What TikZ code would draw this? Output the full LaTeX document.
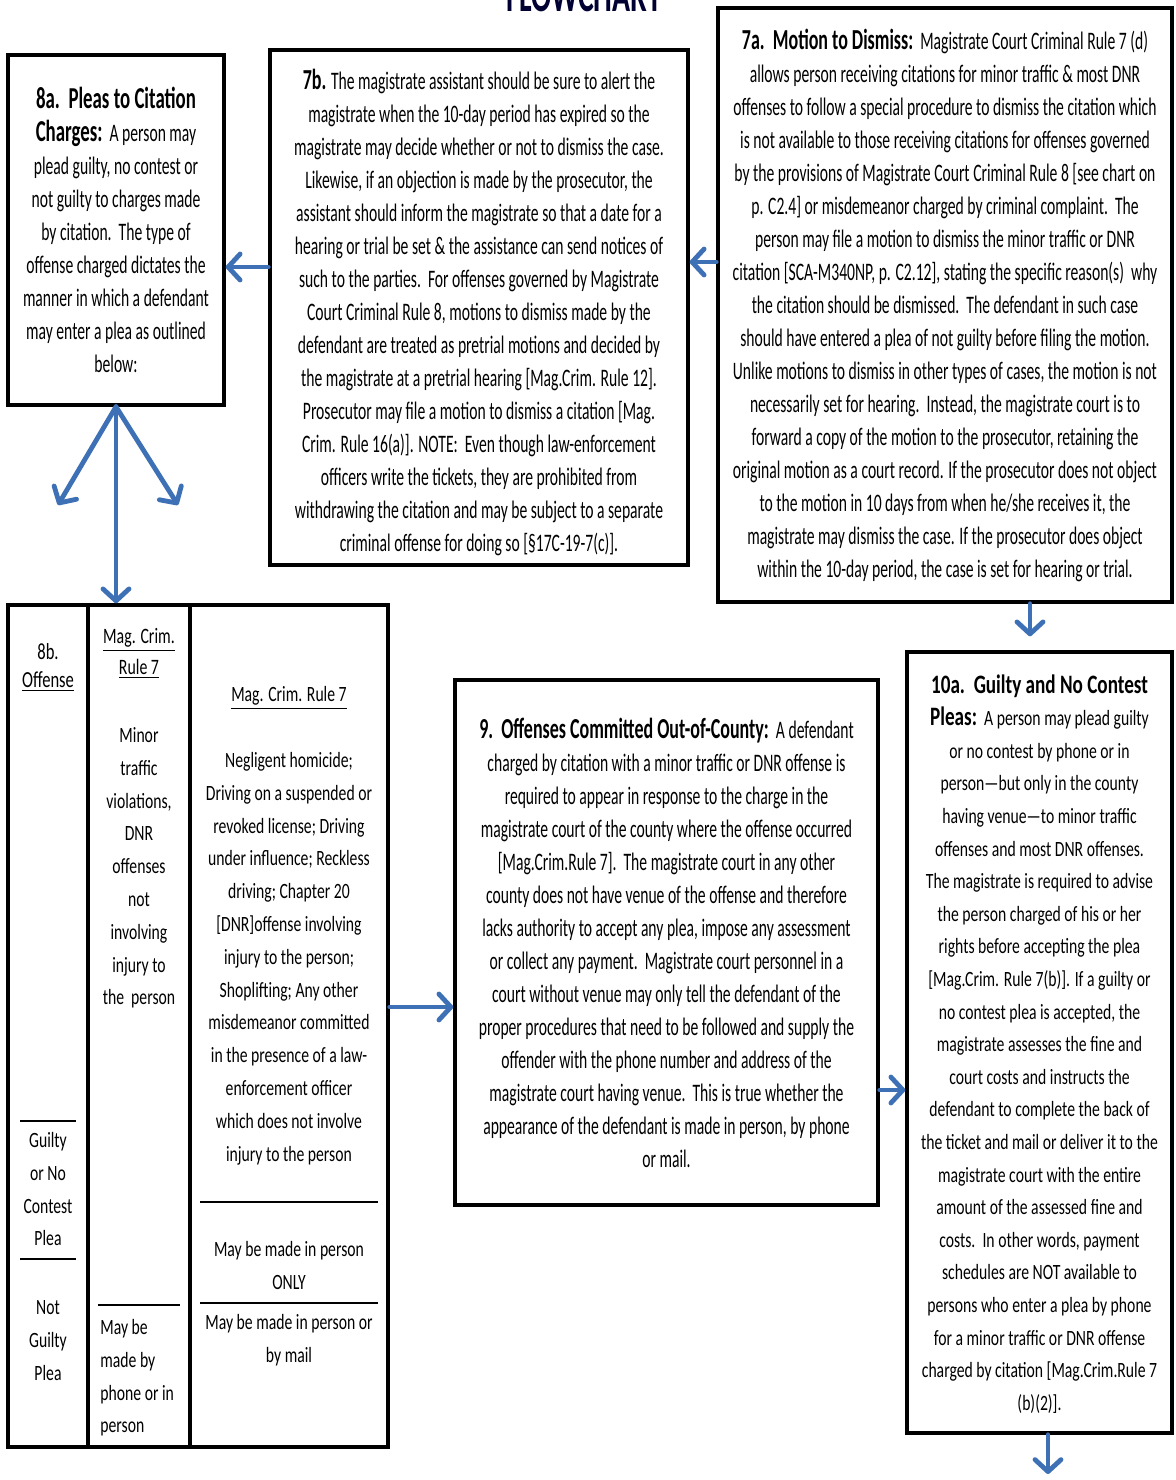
\documentclass[tikz,border=0pt]{standalone}
\usepackage{fontspec}
\setmainfont{Carlito}[FakeStretch=0.62,Ligatures=TeX]
\newfontfamily\tabfont{Carlito}[FakeStretch=0.72,Ligatures=TeX]
\usetikzlibrary{arrows.meta,fit,positioning}

\definecolor{arrblue}{RGB}{62,112,182}
\newcommand{\headtxt}[2][14.5]{{\fontsize{#1}{16.5}\selectfont\bfseries #2}}

\begin{document}
\begin{tikzpicture}[x=0.5pt,y=-0.5pt,
  box/.style={draw,line width=1.7pt,inner sep=0pt},
  txt/.style={inner sep=0pt,align=center,font=\fontsize{12.6}{16.5}\selectfont},
  arr/.style={arrblue,line width=2.4pt,line cap=round,
    -{Straight Barb[length=6pt,width=13pt,round]}},
  cell/.style={inner sep=0pt,align=center,anchor=north,
    font=\tabfont\fontsize{10.9}{16.4}\selectfont},
  rowline/.style={line width=0.8pt}]
\useasboundingbox (0,0) rectangle (1175,1480);
\fill[white] (0,0) rectangle (1175,1480);

\node[font=\bfseries\fontsize{24}{24}\selectfont,text=black!80!blue,anchor=base] (title) at (584,11) {FLOWCHART};

% frames
\node[box,fit={(8,55) (224,405)}] (p8a) {};
\node[box,fit={(270,50) (688,565)}] (p7b) {};
\node[box,fit={(718,8) (1172,602)}] (p7a) {};
\node[box,fit={(455,680) (878,1205)}] (p9) {};
\node[box,fit={(907,652) (1172,1433)}] (p10a) {};
\node[box,fit={(8,605) (388,1447)}] (p8b) {};

% top row
\node[txt] (t8a) at (p8a) {\headtxt[15.2]{8a.\ \ Pleas to Citation}\\
  \headtxt[15.2]{Charges:}\ \ A person may\\ plead guilty, no contest or\\ not guilty to charges made\\
  by citation.\ \ The type of\\ offense charged dictates the\\ manner in which a defendant\\
  may enter a plea as outlined\\ below:};

\node[txt,yshift=-2.5pt] (t7b) at (p7b) {\headtxt{7b.} The magistrate assistant should be sure to alert the\\
  magistrate when the 10-day period has expired so the\\
  magistrate may decide whether or not to dismiss the case.\\
  Likewise, if an objection is made by the prosecutor, the\\
  assistant should inform the magistrate so that a date for a\\
  hearing or trial be set \& the assistance can send notices of\\
  such to the parties.\ \ For offenses governed by Magistrate\\
  Court Criminal Rule 8, motions to dismiss made by the\\
  defendant are treated as pretrial motions and decided by\\
  the magistrate at a pretrial hearing {[}Mag.Crim. Rule 12].\\
  Prosecutor may file a motion to dismiss a citation {[}Mag.\\
  Crim. Rule 16(a)]. NOTE:\ \ Even though law-enforcement\\
  officers write the tickets, they are prohibited from\\
  withdrawing the citation and may be subject to a separate\\
  criminal offense for doing so {[}§17C-19-7(c)].};

\node[txt] (t7a) at (p7a) {\headtxt{7a.\ \ Motion to Dismiss:}\ \ Magistrate Court Criminal Rule 7 (d)\\
  allows person receiving citations for minor traffic \& most DNR\\
  offenses to follow a special procedure to dismiss the citation which\\
  is not available to those receiving citations for offenses governed\\
  by the provisions of Magistrate Court Criminal Rule 8 {[}see chart on\\
  p. C2.4] or misdemeanor charged by criminal complaint.\ \ The\\
  person may file a motion to dismiss the minor traffic or DNR\\
  citation {[}SCA-M340NP, p. C2.12], stating the specific reason(s)\ \ why\\
  the citation should be dismissed.\ \ The defendant in such case\\
  should have entered a plea of not guilty before filing the motion.\\
  Unlike motions to dismiss in other types of cases, the motion is not\\
  necessarily set for hearing.\ \ Instead, the magistrate court is to\\
  forward a copy of the motion to the prosecutor, retaining the\\
  original motion as a court record. If the prosecutor does not object\\
  to the motion in 10 days from when he/she receives it, the\\
  magistrate may dismiss the case. If the prosecutor does object\\
  within the 10-day period, the case is set for hearing or trial.};

% bottom row
\node[txt] (t9) at (p9) {\headtxt{9.\ \ Offenses Committed Out-of-County:}\ \ A defendant\\
  charged by citation with a minor traffic or DNR offense is\\
  required to appear in response to the charge in the\\
  magistrate court of the county where the offense occurred\\
  {[}Mag.Crim.Rule 7].\ \ The magistrate court in any other\\
  county does not have venue of the offense and therefore\\
  lacks authority to accept any plea, impose any assessment\\
  or collect any payment.\ \ Magistrate court personnel in a\\
  court without venue may only tell the defendant of the\\
  proper procedures that need to be followed and supply the\\
  offender with the phone number and address of the\\
  magistrate court having venue.\ \ This is true whether the\\
  appearance of the defendant is made in person, by phone\\
  or mail.};

\node[txt,yshift=-0.7pt,font=\tabfont\fontsize{10.9}{16.3}\selectfont] (t10a) at (p10a) {\headtxt[13.3]{10a.\ \ Guilty and No Contest}\\
  \headtxt[13.3]{Pleas:}\ \ A person may plead guilty\\ or no contest by phone or in\\
  person---but only in the county\\ having venue---to minor traffic\\
  offenses and most DNR offenses.\\ The magistrate is required to advise\\
  the person charged of his or her\\ rights before accepting the plea\\
  {[}Mag.Crim. Rule 7(b)]. If a guilty or\\ no contest plea is accepted, the\\
  magistrate assesses the fine and\\ court costs and instructs the\\
  defendant to complete the back of\\ the ticket and mail or deliver it to the\\
  magistrate court with the entire\\ amount of the assessed fine and\\
  costs.\ \ In other words, payment\\ schedules are NOT available to\\
  persons who enter a plea by phone\\ for a minor traffic or DNR offense\\
  charged by citation {[}Mag.Crim.Rule 7\\ (b)(2)].};

% 8b table
\draw[line width=1.7pt] (p8b.north -| 88,0) -- (p8b.south -| 88,0);
\draw[line width=1.7pt] (p8b.north -| 190,0) -- (p8b.south -| 190,0);

\node[cell,font=\tabfont\fontsize{11.5}{14}\selectfont] (c1a) at (48,643) {8b.\\ \underline{Offense}};
\draw[rowline] (20,1121) -- (76,1121);
\node[cell] (c1b) at (48,1132) {Guilty\\ or No\\ Contest\\ Plea};
\draw[rowline] (20,1259) -- (76,1259);
\node[cell] (c1c) at (48,1300) {Not\\ Guilty\\ Plea};

\node[cell,font=\tabfont\fontsize{11}{15.5}\selectfont] (c2a) at (139,628) {\underline{Mag. Crim.}\\ \underline{Rule 7}};
\node[cell] (c2b) at (139,727) {Minor\\ traffic\\ violations,\\ DNR\\ offenses\\ not\\ involving\\ injury to\\ the~ person};
\draw[rowline] (98,1305) -- (180,1305);
\node[cell,align=left,anchor=north west] (c2c) at (100,1319) {May be\\ made by\\ phone or in\\ person};

\node[cell] (c3a) at (289,686) {\underline{Mag. Crim. Rule 7}};
\node[cell] (c3b) at (289,752) {Negligent homicide;\\ Driving on a suspended or\\ revoked license; Driving\\
  under influence; Reckless\\ driving; Chapter 20\\ {[}DNR]offense involving\\ injury to the person;\\
  Shoplifting; Any other\\ misdemeanor committed\\ in the presence of a law-\\ enforcement officer\\
  which does not involve\\ injury to the person};
\draw[rowline] (200,1202) -- (378,1202);
\node[cell] (c3c) at (289,1241) {May be made in person\\ ONLY};
\draw[line width=1.2pt] (200,1303) -- (378,1303);
\node[cell] (c3d) at (289,1314) {May be made in person or\\ by mail};

% connectors
\coordinate (fl) at (58,505);
\coordinate (fr) at (178,505);
\coordinate (endA) at (1048,1474);
\draw[arr] (p7a.west |- 0,262) -- (p7b.east |- 0,262);
\draw[arr] (p7b.west |- 0,267) -- (p8a.east |- 0,267);
\draw[arr] (p8a.south) -- (fl);
\draw[arr] (p8a.south) -- (fr);
\draw[arr] (p8a.south) -- (p8b.north -| p8a.south);
\draw[arr,shorten >=7pt] (p7a.south -| 1030,0) -- (p10a.north -| 1030,0);
\draw[arr] (p8b.east |- 0,1007) -- (p9.west |- 0,1007);
\draw[arr] (p9.east |- 0,1090) -- (p10a.west |- 0,1090);
\draw[arr] (p10a.south -| 1048,0) -- (endA);
\end{tikzpicture}
\end{document}
